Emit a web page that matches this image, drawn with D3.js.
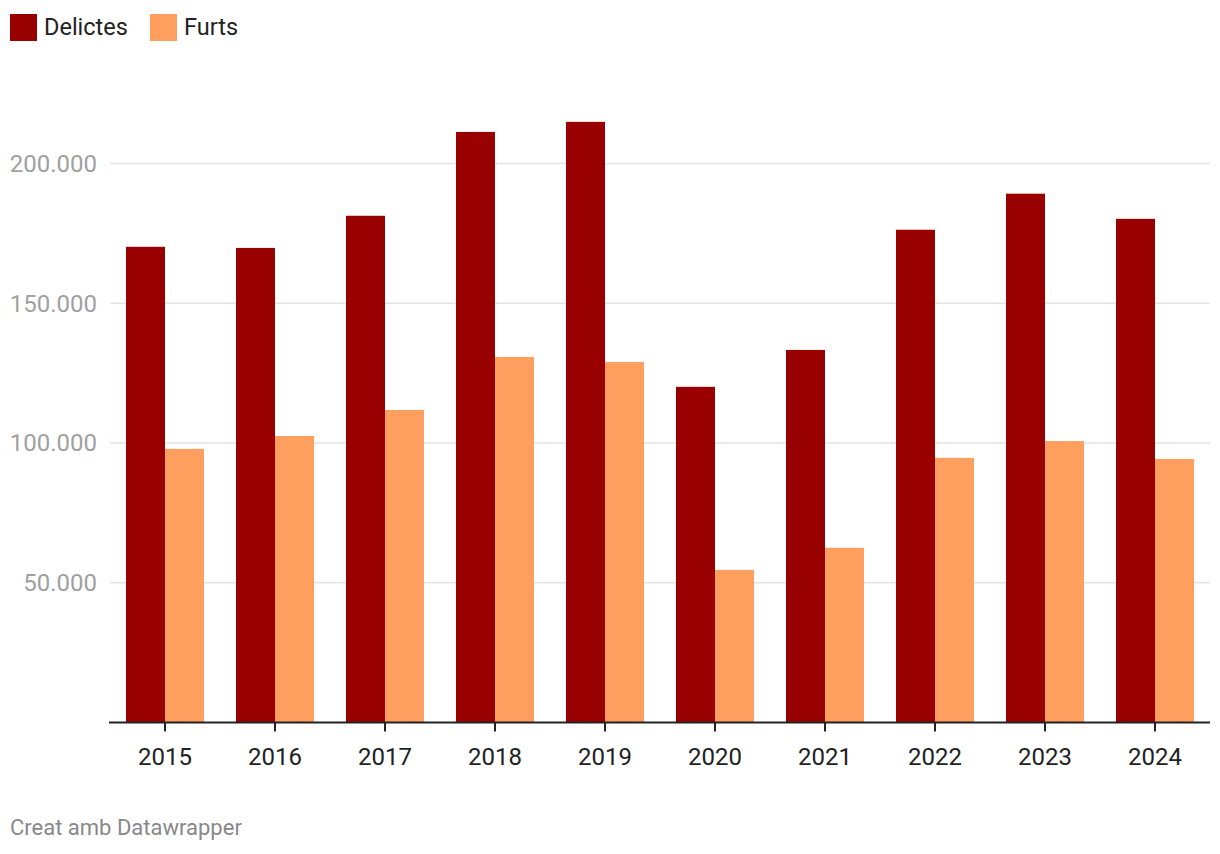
<!DOCTYPE html>
<html>
<head>
<meta charset="utf-8">
<script src="https://cdn.jsdelivr.net/npm/d3@7"></script>
<style>
  html, body { margin: 0; padding: 0; background: #fff; }
  svg { display: block; font-family: Roboto, "Noto Sans", sans-serif; }
</style>
</head>
<body>
<svg id="chart" width="1220" height="854"></svg>
<script>
const years = ["2015","2016","2017","2018","2019","2020","2021","2022","2023","2024"];
const seriesNames = ["Delictes", "Furts"];
const delictes = [170200, 169800, 181300, 211300, 214900, 120100, 133300, 176300, 189200, 180200];
const furts = [97900, 102500, 111800, 130800, 129000, 54600, 62500, 94700, 100700, 94300];
const yTicks = [50000, 100000, 150000, 200000];
const colors = ["#990000", "#ff9f5f"];

const svg = d3.select("#chart");
const y0 = 722.5, yTop = 163.5;
const x = d3.scaleBand().domain(years).range([110, 1210]).paddingInner(32/110).paddingOuter(16/110);
const xs = d3.scaleBand().domain(seriesNames).range([0, x.bandwidth()]);
const y = d3.scaleLinear().domain([0, 200000]).range([y0, yTop]);
const color = d3.scaleOrdinal().domain(seriesNames).range(colors);

const fmt = d => d3.format(",")(d).replace(/,/g, ".");

// gridlines
const grid = svg.append("g").selectAll("g").data(yTicks).join("g");
grid.append("line")
  .attr("x1", 110).attr("x2", 1210)
  .attr("y1", d => y(d)).attr("y2", d => y(d))
  .attr("stroke", "#e3e3e3").attr("stroke-width", 1.5);
grid.append("text")
  .attr("x", 97).attr("y", d => y(d)).attr("dy", "0.35em")
  .attr("text-anchor", "end").attr("fill", "#a0a0a0")
  .style("font-size", "24px").text(fmt);

// bars
const data = years.map((yr, i) => ({year: yr, values: [
  {name: "Delictes", value: delictes[i]},
  {name: "Furts", value: furts[i]}
]}));
svg.append("g").selectAll("g").data(data).join("g")
  .attr("transform", d => `translate(${x(d.year)},0)`)
  .selectAll("rect").data(d => d.values).join("rect")
  .attr("x", d => xs(d.name))
  .attr("width", xs.bandwidth())
  .attr("y", d => y(d.value))
  .attr("height", d => y0 - y(d.value))
  .attr("fill", d => color(d.name));

// x axis
const xAxis = svg.append("g").attr("transform", `translate(0,${y0})`);
xAxis.append("line").attr("x1", 109).attr("x2", 1210).attr("stroke", "#222").attr("stroke-width", 2);
const xt = xAxis.selectAll("g").data(years).join("g")
  .attr("transform", d => `translate(${x(d) + x.bandwidth()/2},0)`);
xt.append("line").attr("y1", 0).attr("y2", 9).attr("stroke", "#222").attr("stroke-width", 2);
xt.append("text").attr("y", 42).attr("text-anchor", "middle").attr("fill", "#222")
  .style("font-size", "24px").text(d => d);

// legend
const leg = svg.append("g");
const legX = [10, 150];
seriesNames.forEach((n, i) => {
  leg.append("rect").attr("x", legX[i]).attr("y", 14).attr("width", 27).attr("height", 27).attr("fill", color(n));
  leg.append("text").attr("x", legX[i] + 34).attr("y", 35).attr("fill", "#222")
    .style("font-size", "23.5px").text(n);
});

// footer
svg.append("text").attr("x", 10).attr("y", 835).attr("fill", "#888")
  .style("font-size", "22px").text("Creat amb Datawrapper");
</script>
</body>
</html>
